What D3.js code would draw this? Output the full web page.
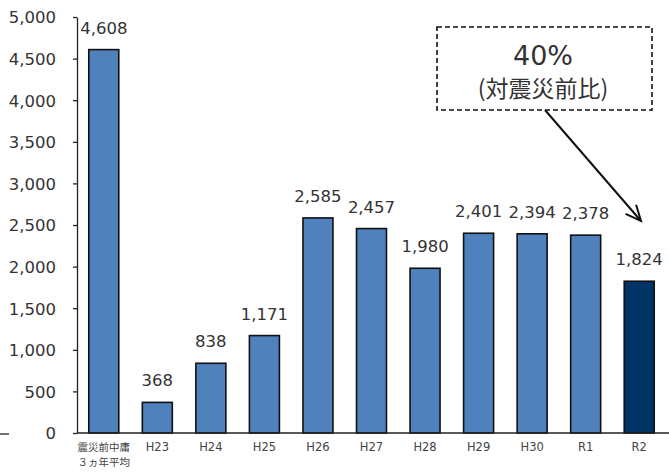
<!DOCTYPE html>
<html>
<head>
<meta charset="utf-8">
<script src="https://cdn.jsdelivr.net/npm/d3@7"></script>
<style>
  html, body { margin: 0; padding: 0; background: #fff; }
  svg { display: block; font-family: "DejaVu Sans", "Noto Sans CJK JP", sans-serif; }
</style>
</head>
<body>
<svg id="chart" width="669" height="476"></svg>
<script>
// Categories (fiscal years) and yearly values
const categories = ["震災前中庸\n３ヵ年平均", "H23", "H24", "H25", "H26", "H27", "H28", "H29", "H30", "R1", "R2"];
const values = [4608, 368, 838, 1171, 2585, 2457, 1980, 2401, 2394, 2378, 1824];
const yTicks = [0, 500, 1000, 1500, 2000, 2500, 3000, 3500, 4000, 4500, 5000];
const highlight = "R2";
const noteMain = "40%";
const noteSub = "(対震災前比)";

(function draw() {
  const svg = d3.select("#chart");
  const plotLeft = 77, plotRight = 666, plotTop = 17, plotBottom = 433;
  const cjk = "\"Noto Sans CJK JP\", sans-serif";
  const latin = "\"DejaVu Sans\", sans-serif";

  const x = d3.scaleBand().domain(categories).range([plotLeft, plotRight]).paddingInner(0.44).paddingOuter(0.22);
  const y = d3.scaleLinear().domain([0, 5000]).range([plotBottom, plotTop]);

  // Y axis: line with short outer ticks
  const yAxis = svg.append("g").attr("transform", `translate(${plotLeft},0)`)
    .call(d3.axisLeft(y).tickValues(yTicks).tickSize(4).tickSizeOuter(0).tickFormat(d3.format(",")));
  yAxis.select(".domain").attr("stroke", "#222").attr("stroke-width", 1.3);
  yAxis.selectAll(".tick line").attr("stroke", "#222").attr("stroke-width", 1.3);
  yAxis.selectAll(".tick text").attr("x", -21).attr("dy", "0.36em")
    .attr("font-size", 16.5).attr("fill", "#333")
    .attr("font-family", latin);

  // Bars
  svg.append("g").selectAll("rect").data(values).join("rect")
    .attr("x", (d, i) => x(categories[i]))
    .attr("width", x.bandwidth())
    .attr("y", d => y(d))
    .attr("height", d => y(0) - y(d))
    .attr("fill", (d, i) => categories[i] === highlight ? "#003366" : "#4F81BD")
    .attr("stroke", "#111").attr("stroke-width", 1.6);

  // X axis baseline
  svg.append("line").attr("x1", plotLeft).attr("x2", 669).attr("y1", plotBottom).attr("y2", plotBottom)
    .attr("stroke", "#222").attr("stroke-width", 1.3);
  svg.append("line").attr("x1", 0).attr("x2", 9).attr("y1", plotBottom + 1).attr("y2", plotBottom + 1)
    .attr("stroke", "#222").attr("stroke-width", 1.3);

  // Value labels
  svg.append("g").selectAll("text").data(values).join("text")
    .attr("x", (d, i) => x(categories[i]) + x.bandwidth() / 2)
    .attr("y", d => y(d) - 16)
    .attr("text-anchor", "middle")
    .attr("font-size", 16.5).attr("fill", "#333")
    .attr("font-family", latin)
    .text(d => d3.format(",")(d));

  // Category labels
  const xl = svg.append("g");
  categories.forEach(c => {
    const cx = x(c) + x.bandwidth() / 2;
    const lines = c.split("\n");
    const multi = lines.length > 1;
    lines.forEach((ln, j) => {
      xl.append("text")
        .attr("x", cx)
        .attr("y", 451 + j * 15)
        .attr("text-anchor", "middle")
        .attr("font-size", multi ? 10.5 : 11.5)
        .attr("font-family", multi ? cjk : latin)
        .attr("fill", "#444")
        .text(ln);
    });
  });

  // Annotation box with arrow
  svg.append("rect").attr("x", 437).attr("y", 27).attr("width", 215).attr("height", 83)
    .attr("fill", "#fff").attr("stroke", "#111").attr("stroke-width", 1.6)
    .attr("stroke-dasharray", "5,3");
  svg.append("text").attr("x", 543).attr("y", 65).attr("text-anchor", "middle")
    .attr("font-size", 27).attr("fill", "#333")
    .attr("font-family", latin).text(noteMain);
  svg.append("text").attr("x", 543).attr("y", 97).attr("text-anchor", "middle")
    .attr("font-size", 23).attr("fill", "#333")
    .attr("font-family", cjk).text(noteSub);

  const ax1 = 545, ay1 = 110, ax2 = 641, ay2 = 221;
  svg.append("line").attr("x1", ax1).attr("y1", ay1).attr("x2", ax2).attr("y2", ay2)
    .attr("stroke", "#111").attr("stroke-width", 2);
  const ang = Math.atan2(ay2 - ay1, ax2 - ax1), hl = 17, ha = 0.42;
  svg.append("path")
    .attr("d", `M${ax2 - hl * Math.cos(ang - ha)},${ay2 - hl * Math.sin(ang - ha)} L${ax2},${ay2} L${ax2 - hl * Math.cos(ang + ha)},${ay2 - hl * Math.sin(ang + ha)}`)
    .attr("fill", "none").attr("stroke", "#111").attr("stroke-width", 2);
})();
</script>
</body>
</html>
